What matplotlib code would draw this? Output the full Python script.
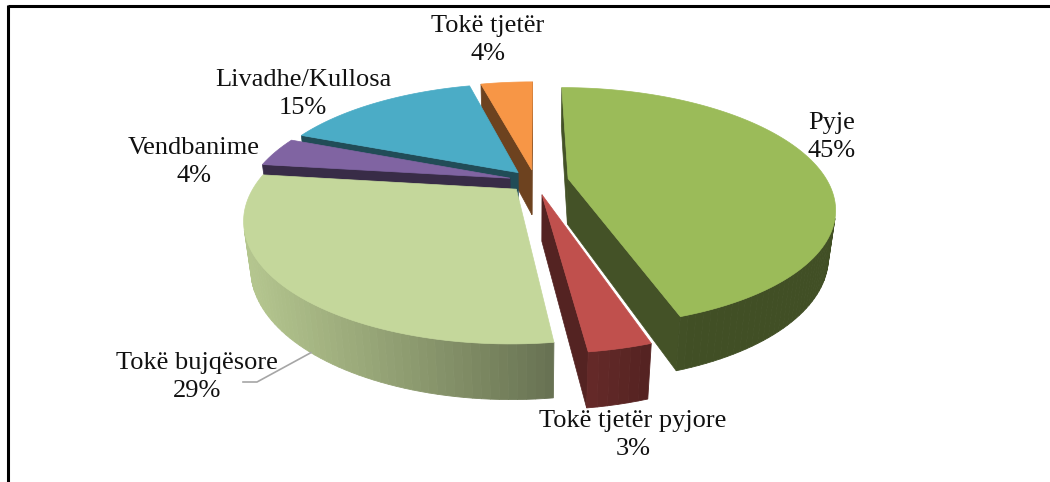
import numpy as np
import matplotlib
matplotlib.use("Agg")
import matplotlib.pyplot as plt
from matplotlib.patches import Polygon

# data (clockwise from 12 o'clock)
labels = ["Pyje", "Tokë tjetër pyjore", "Tokë bujqësore", "Vendbanime",
          "Livadhe/Kullosa", "Tokë tjetër"]
values = [45, 3, 29, 4, 15, 4]
top_colors = ["#9BBB59", "#C0504D", "#C4D79B", "#8064A2", "#4BACC6", "#F79646"]
explode = [0.13, 0.12, 0.10, 0.10, 0.10, 0.10]

# label placement (pixel centres)
label_xy = [(832, 137), (633, 435), (197, 377), (194, 162), (303, 94), (488, 40)]

# camera / projection
ELEV = np.radians(26)
DIST = 3.8
SCALE = 985
CX, CY = 535, 181
H = 0.2
CAM = np.array([0.0, -DIST * np.cos(ELEV), DIST * np.sin(ELEV)])


def proj(p):
    x, y, z = p
    yc = y * np.sin(ELEV) + z * np.cos(ELEV)
    zc = y * np.cos(ELEV) - z * np.sin(ELEV) + DIST
    return (CX + SCALE * x / zc, CY - SCALE * yc / zc)


def depth(p):
    x, y, z = p
    return y * np.cos(ELEV) - z * np.sin(ELEV) + DIST


def shade(hexc, f):
    c = np.array(matplotlib.colors.to_rgb(hexc))
    return tuple(np.clip(c * f, 0, 1))


def visible(p, n):
    return np.dot(CAM - np.asarray(p), n) > 0


LIGHT = np.array([-0.85, -0.3])
LIGHT = LIGHT / np.linalg.norm(LIGHT)

fig = plt.figure(figsize=(10.5, 4.82), dpi=100)
ax = fig.add_axes([0, 0, 1, 1])
ax.set_xlim(0, 1050)
ax.set_ylim(482, 0)
ax.axis("off")

total = sum(values)
bounds = np.concatenate([[0], np.cumsum(values)]) / total * 2 * np.pi

slices = []
for i in range(len(values)):
    t1, t2 = bounds[i], bounds[i + 1]
    tm = (t1 + t2) / 2
    off = explode[i] * np.array([np.sin(tm), np.cos(tm), 0.0])
    cen = off + 0.5 * np.array([np.sin(tm), np.cos(tm), 0.0])
    slices.append((depth(cen), i, t1, t2, off))

slices.sort(key=lambda s: -s[0])

for _, i, t1, t2, off in slices:
    col = top_colors[i]
    ts = np.linspace(t1, t2, max(4, int(np.degrees(t2 - t1) / 1.5)))
    rim = lambda t, z: off + np.array([np.sin(t), np.cos(t), z])
    apex_t = off + np.array([0, 0, 0.0])
    apex_b = off + np.array([0, 0, -H])

    # radial faces
    for t, n in ((t1, np.array([-np.cos(t1), np.sin(t1), 0])),
                 (t2, np.array([np.cos(t2), -np.sin(t2), 0]))):
        pts = [apex_t, rim(t, 0), rim(t, -H), apex_b]
        mid = np.mean(pts, axis=0)
        if visible(mid, n):
            ax.add_patch(Polygon([proj(p) for p in pts], closed=True,
                                 facecolor=shade(col, 0.44),
                                 edgecolor=shade(col, 0.44), lw=0.5))

    # outer wall
    for a, b in zip(ts[:-1], ts[1:]):
        m = (a + b) / 2
        n = np.array([np.sin(m), np.cos(m), 0])
        if not visible(rim(m, -H / 2), n):
            continue
        f = 0.42 + 0.5 * max(0.0, float(np.dot(n[:2], LIGHT)))
        c = shade(col, f)
        pts = [rim(a, 0), rim(b, 0), rim(b, -H), rim(a, -H)]
        ax.add_patch(Polygon([proj(p) for p in pts], closed=True,
                             facecolor=c, edgecolor=c, lw=0.6))

    # top face
    pts = [apex_t] + [rim(t, 0) for t in ts]
    ax.add_patch(Polygon([proj(p) for p in pts], closed=True,
                         facecolor=col, edgecolor=col, lw=0.5))

# leader line for Tokë bujqësore
i_b = 2
tmb = (bounds[i_b] + bounds[i_b + 1]) / 2
offb = explode[i_b] * np.array([np.sin(tmb), np.cos(tmb), 0.0])
t_lead = np.radians(220)
start = proj(offb + np.array([np.sin(t_lead), np.cos(t_lead), -H]))
ax.plot([start[0], 257, 243], [start[1], 382, 382], color="#a6a6a6", lw=1.2)

for i, (x, y) in enumerate(label_xy):
    ax.text(x, y, f"{labels[i]}\n{values[i]}%", ha="center", va="center",
            multialignment="center", fontsize=19, family="Liberation Serif",
            color="#111111", linespacing=1.3)

# frame
ax.plot([8, 1050], [6, 6], color="black", lw=2.2, solid_capstyle="butt")
ax.plot([8, 8], [5, 482], color="black", lw=2.2, solid_capstyle="butt")

fig.savefig("out.png", dpi=100, facecolor="white")
